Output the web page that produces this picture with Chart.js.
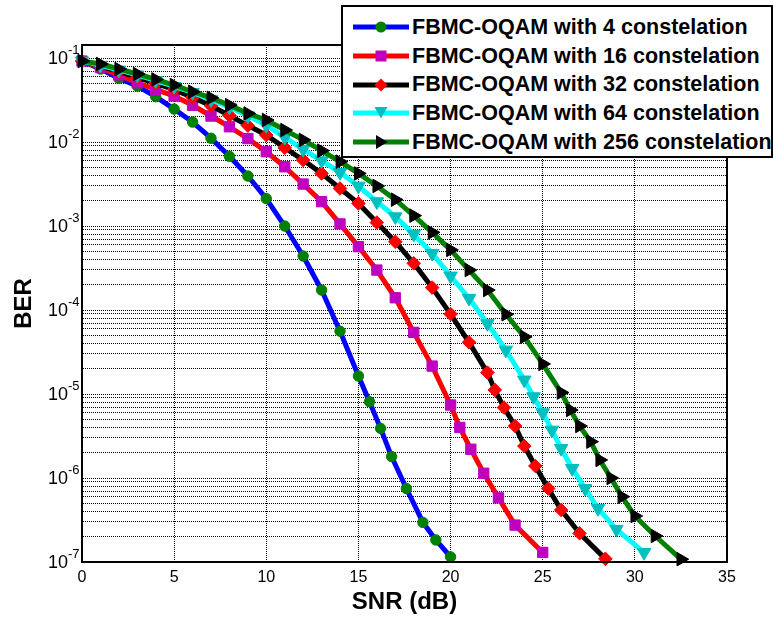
<!DOCTYPE html>
<html>
<head>
<meta charset="utf-8">
<script src="https://cdn.jsdelivr.net/npm/chart.js@4.4.1/dist/chart.umd.min.js"></script>
<style>
  html, body { margin: 0; padding: 0; background: #fff; }
  #wrap { position: relative; width: 773px; height: 620px; }
  #legend {
    position: absolute; left: 341px; top: 5px; width: 432px; height: 153px;
    box-sizing: border-box; border: 2px solid #000; background: #fff; padding-top: 6px;
    font-family: "Liberation Sans", Arial, Helvetica, sans-serif; font-weight: bold; font-size: 21.5px; color: #000;
  }
  .legend-item { display: flex; align-items: center; height: 28.7px; white-space: nowrap; }
  .legend-item svg { margin-left: 10px; margin-right: 3px; flex: none; }
</style>
</head>
<body>
<div id="wrap">
  <canvas id="chart" width="773" height="620"></canvas>
  <div id="legend"></div>
</div>
<script>
    // SNR (dB) points and BER, one pair of arrays per constellation
    const snr4 = [0,1,2,3,4,5,6,7,8,9,10,11,12,13,14,15,15.6,16.2,16.8,17.6,18.5,19.2,20];
    const ber4 = [0.092,0.074,0.0573,0.0464,0.0347,0.0247,0.0173,0.0111,0.00676,0.00394,0.00212,0.00100,4.4e-4,1.73e-4,5.6e-5,1.64e-5,8.1e-6,3.9e-6,1.8e-6,7.5e-7,2.96e-7,1.83e-7,1.15e-7];

    const snr16 = [0,1,2,3,4,5,6,7,8,9,10,11,12,13,14,15,16,17,18,19,20,20.5,21.1,21.8,22.6,23.5,25];
    const ber16 = [0.092,0.077,0.063,0.0508,0.0424,0.0353,0.0274,0.0204,0.0152,0.0110,0.00767,0.00508,0.00316,0.00195,0.00106,5.68e-4,2.99e-4,1.40e-4,5.42e-5,2.15e-5,7.4e-6,4.0e-6,2.2e-6,1.14e-6,5.8e-7,2.75e-7,1.3e-7];

    const snr32 = [0,1,2,3,4,5,6,7,8,9,10,11,12,13,14,15,16,17,18,19,20,21,22,22.4,22.9,23.5,24,24.6,25.3,26,27,28.4];
    const ber32 = [0.092,0.080,0.069,0.059,0.050,0.042,0.034,0.027,0.0207,0.0157,0.0121,0.00855,0.0061,0.00423,0.0028,0.00186,0.0011,6.5e-4,3.6e-4,1.85e-4,8.95e-5,4.12e-5,1.8e-5,1.12e-5,6.9e-6,4.16e-6,2.4e-6,1.39e-6,7.5e-7,4.16e-7,2.2e-7,1.09e-7];

    const snr64 = [0,1,2,3,4,5,6,7,8,9,10,11,12,13,14,15,16,17,18,19,20,21,22,23,24,24.5,25,25.5,26,26.6,27.3,28,29,30.5];
    const ber64 = [0.092,0.082,0.072,0.063,0.054,0.046,0.039,0.032,0.026,0.0205,0.0158,0.0114,0.0082,0.0060,0.00435,0.00299,0.00195,0.00129,8.0e-4,4.73e-4,2.54e-4,1.38e-4,6.9e-5,3.34e-5,1.47e-5,9.3e-6,6.0e-6,3.72e-6,2.25e-6,1.3e-6,7.5e-7,4.35e-7,2.45e-7,1.3e-7];

    const snr256 = [0,1,2,3,4,5,6,7,8,9,10,11,12,13,14,15,16,17,18,19,20,21,22,23,24,25,26,26.5,27,27.6,28.1,28.7,29.3,30,31.1,32.5];
    const ber256 = [0.092,0.085,0.074,0.0646,0.0557,0.0477,0.0397,0.0336,0.0275,0.0219,0.0183,0.0139,0.0106,0.0079,0.00584,0.00423,0.0030,0.00206,0.00133,8.4e-4,5.2e-4,2.99e-4,1.73e-4,8.9e-5,4.8e-5,2.28e-5,1.04e-5,6.45e-6,4.16e-6,2.71e-6,1.64e-6,1.0e-6,6.0e-7,3.53e-7,2.04e-7,1.08e-7];

    const seriesLabels = [
      "FBMC-OQAM with 4 constelation",
      "FBMC-OQAM with 16 constelation",
      "FBMC-OQAM with 32 constelation",
      "FBMC-OQAM with 64 constelation",
      "FBMC-OQAM with 256 constelation"
    ];
    const xTicks = [0,5,10,15,20,25,30,35];
    const yDecades = [-7,-6,-5,-4,-3,-2,-1];
    const yMantissas = [1,2,3,4,5,6,7,8,9];
    const yMin = 1e-7, yMax = 0.143;

    // styles
    const lineColors = ["#0000ff", "#ff0000", "#000000", "#00ffff", "#008000"];
    const markerColors = ["#008000", "#bf00bf", "#ff0000", "#00bfbf", "#000000"];
    const markerStyles = ["circle", "rect", "rectRot", "triangle", "triangle"];
    const markerRotations = [0, 0, 0, 180, 90];
    const markerRadius = [5.2, 7.3, 6.8, 7.8, 7.8];

    const seriesX = [snr4, snr16, snr32, snr64, snr256];
    const seriesY = [ber4, ber16, ber32, ber64, ber256];

    const yTickValues = [];
    yDecades.forEach(d => yMantissas.forEach(m => {
      const v = m * Math.pow(10, d);
      if (v >= yMin * 0.999 && v <= yMax) yTickValues.push(v);
    }));

    const FONT = '"Liberation Sans", Arial, Helvetica, sans-serif';
    Chart.defaults.font.family = FONT;
    Chart.defaults.color = "#000";

    const datasets = seriesLabels.map((label, i) => ({
      label: label,
      data: seriesX[i].map((x, j) => ({ x: x, y: seriesY[i][j] })),
      borderColor: lineColors[i],
      backgroundColor: lineColors[i],
      borderWidth: 5,
      borderJoinStyle: "round",
      pointStyle: markerStyles[i],
      pointRotation: markerRotations[i],
      pointRadius: markerRadius[i],
      pointBackgroundColor: markerColors[i],
      pointBorderColor: markerColors[i],
      pointBorderWidth: 1,
      tension: 0,
      clip: false,
      order: seriesLabels.length - i
    }));

    // MATLAB-like box round the axes
    const boxPlugin = {
      id: "axisBox",
      afterDraw(chart) {
        const { ctx, chartArea: a } = chart;
        ctx.save();
        ctx.setLineDash([]);
        ctx.strokeStyle = "#000";
        ctx.lineWidth = 2;
        ctx.strokeRect(a.left, a.top, a.right - a.left, a.bottom - a.top);
        ctx.restore();
      }
    };

    // decade labels written as 10 with a raised exponent
    const powerLabels = {
      id: "powerLabels",
      afterDraw(chart) {
        const { ctx } = chart;
        const y = chart.scales.y;
        const xr = y.right - 14;
        ctx.save();
        ctx.fillStyle = "#000";
        yDecades.forEach(d => {
          const py = y.getPixelForValue(Math.pow(10, d));
          ctx.font = "18px " + FONT;
          ctx.textAlign = "right";
          ctx.textBaseline = "middle";
          ctx.fillText("10", xr, py + 1);
          ctx.font = "13px " + FONT;
          ctx.textAlign = "left";
          ctx.textBaseline = "alphabetic";
          ctx.fillText(String(d), xr, py - 4);
        });
        ctx.restore();
      }
    };

    new Chart(document.getElementById("chart"), {
      type: "line",
      data: { datasets },
      options: {
        responsive: false,
        animation: false,
        events: [],
        layout: { padding: { top: 45, right: 46, left: 0, bottom: 0 } },
        plugins: { legend: { display: false }, tooltip: { enabled: false } },
        scales: {
          x: {
            type: "linear", min: 0, max: 35,
            afterFit: s => { s.height = 58; },
            afterBuildTicks: s => { s.ticks = xTicks.map(v => ({ value: v })); },
            ticks: { color: "#000", font: { size: 16 }, padding: 6, autoSkip: false },
            grid: { color: "#000", lineWidth: 1, drawTicks: false },
            border: { color: "#000", width: 2, dash: [1, 1] },
            title: { display: true, text: "SNR (dB)", color: "#000", font: { size: 24, weight: "bold" }, padding: { top: 0, bottom: 3 } }
          },
          y: {
            type: "logarithmic", min: yMin, max: yMax,
            afterFit: s => { s.width = 82; },
            afterBuildTicks: s => { s.ticks = yTickValues.map(v => ({ value: v })); },
            ticks: { display: false, autoSkip: false },
            grid: { color: "#000", lineWidth: 1, drawTicks: false },
            border: { color: "#000", width: 2, dash: [1, 1] },
            title: { display: true, text: "BER", color: "#000", font: { size: 24, weight: "bold" }, padding: { top: 10, bottom: 0 } }
          }
        }
      },
      plugins: [boxPlugin, powerLabels]
    });

    function markerSvg(i) {
      const c = markerColors[i];
      let shape = "";
      if (i === 0) shape = `<circle cx="28" cy="10" r="5.5" fill="${c}"/>`;
      if (i === 1) shape = `<rect x="22.5" y="4.5" width="11" height="11" fill="${c}"/>`;
      if (i === 2) shape = `<polygon points="28,3.5 34.5,10 28,16.5 21.5,10" fill="${c}"/>`;
      if (i === 3) shape = `<polygon points="21.5,4 34.5,4 28,15.5" fill="${c}"/>`;
      if (i === 4) shape = `<polygon points="23,3 34.5,10 23,17" fill="${c}"/>`;
      return `<svg width="56" height="20" viewBox="0 0 56 20">
        <line x1="0" y1="10" x2="56" y2="10" stroke="${lineColors[i]}" stroke-width="5"/>${shape}</svg>`;
    }

    const legend = document.getElementById("legend");
    seriesLabels.forEach((label, i) => {
      const item = document.createElement("div");
      item.classList.add("legend-item");
      item.innerHTML = markerSvg(i) + `<span>${label}</span>`;
      legend.appendChild(item);
    });
</script>
</body>
</html>
